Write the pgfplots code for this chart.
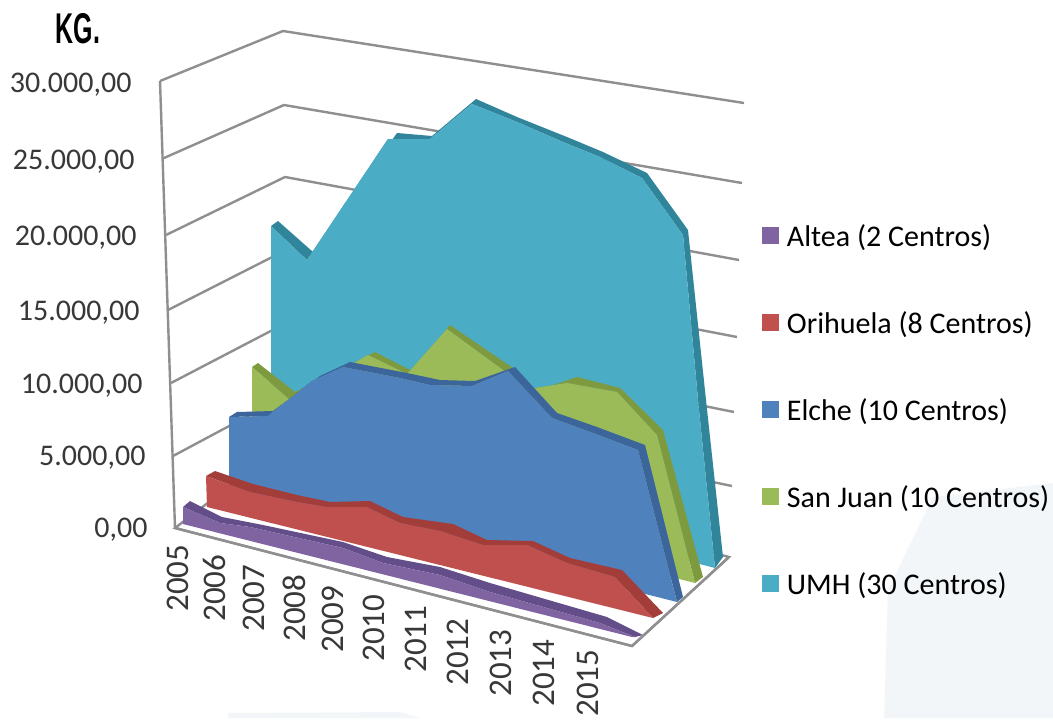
\documentclass[border=0pt]{standalone}
\usepackage{fontspec}
\setmainfont{Carlito}
\newfontfamily\kgfont{Liberation Sans}
\usepackage{graphicx}
\usepackage{pgfplots}
\pgfplotsset{compat=1.18}

\definecolor{umh}{HTML}{4BACC6}
\definecolor{umhd}{HTML}{31859B}
\definecolor{sj}{HTML}{9BBB59}
\definecolor{sjd}{HTML}{7E9A3F}
\definecolor{elche}{HTML}{4F81BD}
\definecolor{elched}{HTML}{3B659B}
\definecolor{ori}{HTML}{C0504D}
\definecolor{orid}{HTML}{A33D3A}
\definecolor{altea}{HTML}{8064A2}
\definecolor{altead}{HTML}{644E8A}
\definecolor{gridc}{HTML}{8F8F8F}
\definecolor{paleb}{HTML}{F3F6F9}
\definecolor{ticktxt}{HTML}{383838}

\begin{document}
\begin{tikzpicture}
% the chart is a 3D perspective view, so everything is given in picture coordinates
\begin{axis}[
    scale only axis,
    width=1053pt, height=718pt,
    xmin=0, xmax=1053, ymin=0, ymax=718,
    y dir=reverse,
    enlargelimits=false,
    hide axis,
    clip=false,
    reverse legend,
    legend style={
        at={(0.7236,0.6873)}, anchor=north west,
        draw=none, fill=none,
        font=\fontsize{30}{36}\selectfont,
        row sep=65pt, inner sep=0pt, outer sep=0pt,
        nodes={inner sep=0pt, text depth=0pt},
        /tikz/every odd column/.append style={column sep=8pt},
    },
    legend cell align=left,
    legend image code/.code={\fill[#1] (0pt,-8.5pt) rectangle (17pt,8.5pt);},
]
% background
\addplot[fill=white, draw=none, forget plot] coordinates {(0,0) (1053,0) (1053,718) (0,718)} --cycle;
\addplot[fill=paleb, draw=none, forget plot] coordinates {(933,497) (1053,483) (1053,718) (884,718) (888,590)} --cycle;
\addplot[fill=paleb, draw=none, forget plot] coordinates {(228,713) (400,712) (420,718) (228,718)} --cycle;

% walls and grid
\pgfplotsset{grid line/.style={draw=gridc, line width=2.4pt, forget plot, no marks}}
\addplot[grid line] coordinates {(160,81) (283,31) (744,103)};
\addplot[grid line] coordinates {(164,158) (284,105) (742,183)};
\addplot[grid line] coordinates {(166,235) (285,177) (739,260)};
\addplot[grid line] coordinates {(168,310) (286,250) (737,337)};
\addplot[grid line] coordinates {(171,383) (288,322) (734,412)};
\addplot[grid line] coordinates {(173,456) (289,394) (732,486)};
\addplot[grid line] coordinates {(160,81) (175,528)};
\addplot[fill=white, draw=gridc, line width=2.4pt, forget plot] coordinates {(175,528) (632,646) (729,557) (290,440)} --cycle;

% UMH
\addplot[fill=umhd, draw=none, forget plot] coordinates {(278,221) (313,252) (397,133) (432,136) (476,99) (517,117) (567,137) (603,152) (647,173) (688,230) (706,400) (723,557) (715,568) (698,400) (683,235) (642,178) (600,157) (563,142) (517,122) (472,104) (430,139) (388,139) (307,260) (271,226)} --cycle;
\addplot[fill=umh, draw=none] coordinates {(271,226) (307,260) (388,139) (430,139) (472,104) (517,122) (563,142) (600,157) (642,178) (683,235) (698,400) (715,568) (271,453)} --cycle;
\addlegendentry{UMH (30 Centros)}

% San Juan
\addplot[fill=sjd, draw=none, forget plot] coordinates {(258,363) (295,392) (375,352) (412,371) (450,325) (513,368) (532,392) (577,377) (620,388) (663,430) (703,577) (695,583) (657,435) (617,392) (567,383) (535,388) (522,395) (503,370) (447,329) (407,374) (368,355) (290,400) (252,367)} --cycle;
\addplot[fill=sj, draw=none] coordinates {(252,367) (290,400) (368,355) (407,374) (447,329) (503,370) (522,395) (535,388) (567,383) (617,392) (657,435) (695,583) (252,470)} --cycle;
\addlegendentry{San Juan (10 Centros)}

% Elche
\addplot[fill=elched, draw=none, forget plot] coordinates {(237,412) (273,411) (320,376) (350,362) (407,373) (440,380) (475,381) (515,367) (557,413) (597,427) (645,445) (683,597) (677,602) (638,450) (593,433) (552,418) (508,371) (472,386) (430,385) (400,378) (343,367) (312,381) (268,416) (229,417)} --cycle;
\addplot[fill=elche, draw=none] coordinates {(229,417) (268,416) (312,381) (343,367) (400,378) (430,385) (472,386) (508,371) (552,418) (593,433) (638,450) (677,602) (229,488)} --cycle;
\addlegendentry{Elche (10 Centros)}

% Orihuela
\addplot[fill=orid, draw=none, forget plot] coordinates {(215,471) (253,484) (297,495) (330,502) (370,501) (403,517) (453,524) (487,540) (533,541) (570,558) (622,570) (663,613) (653,618) (615,577) (567,563) (527,545) (483,545) (440,531) (400,523) (367,507) (327,507) (297,502) (250,492) (206,476)} --cycle;
\addplot[fill=ori, draw=none] coordinates {(206,476) (250,492) (297,502) (327,507) (367,507) (400,523) (440,531) (483,545) (527,545) (567,563) (615,577) (653,618) (207,507)} --cycle;
\addlegendentry{Orihuela (8 Centros)}

% Altea
\addplot[fill=altead, draw=none, forget plot] coordinates {(190,501) (222,517) (263,525) (343,542) (387,557) (440,567) (490,583) (607,617) (643,635) (635,637) (600,623) (490,592) (440,575) (383,563) (343,548) (250,527) (220,523) (183,507)} --cycle;
\addplot[fill=altea, draw=none] coordinates {(183,507) (220,523) (250,527) (343,548) (383,563) (440,575) (490,592) (600,623) (635,637) (632,637) (183,524)} --cycle;
\addlegendentry{Altea (2 Centros)}

% front edge of the floor
\addplot[draw=gridc, line width=2.4pt, forget plot] coordinates {(175,528) (632,646) (729,557)};

% value labels
\node[anchor=east, text=ticktxt, font=\fontsize{30}{36}\selectfont] at (axis cs:135,85) {30.000,00};
\node[anchor=east, text=ticktxt, font=\fontsize{30}{36}\selectfont] at (axis cs:138,162) {25.000,00};
\node[anchor=east, text=ticktxt, font=\fontsize{30}{36}\selectfont] at (axis cs:140,238) {20.000,00};
\node[anchor=east, text=ticktxt, font=\fontsize{30}{36}\selectfont] at (axis cs:143,313) {15.000,00};
\node[anchor=east, text=ticktxt, font=\fontsize{30}{36}\selectfont] at (axis cs:146,386) {10.000,00};
\node[anchor=east, text=ticktxt, font=\fontsize{30}{36}\selectfont] at (axis cs:149,458) {5.000,00};
\node[anchor=east, text=ticktxt, font=\fontsize{30}{36}\selectfont] at (axis cs:151,530) {0,00};

% year labels
\node[rotate=90, text=ticktxt, font=\fontsize{33}{36}\selectfont] at (axis cs:178,578) {2005};
\node[rotate=90, text=ticktxt, font=\fontsize{33}{36}\selectfont] at (axis cs:214,588) {2006};
\node[rotate=90, text=ticktxt, font=\fontsize{33}{36}\selectfont] at (axis cs:254,598) {2007};
\node[rotate=90, text=ticktxt, font=\fontsize{33}{36}\selectfont] at (axis cs:294,608) {2008};
\node[rotate=90, text=ticktxt, font=\fontsize{33}{36}\selectfont] at (axis cs:333,619) {2009};
\node[rotate=90, text=ticktxt, font=\fontsize{33}{36}\selectfont] at (axis cs:374,628) {2010};
\node[rotate=90, text=ticktxt, font=\fontsize{33}{36}\selectfont] at (axis cs:416,639) {2011};
\node[rotate=90, text=ticktxt, font=\fontsize{33}{36}\selectfont] at (axis cs:458,652) {2012};
\node[rotate=90, text=ticktxt, font=\fontsize{33}{36}\selectfont] at (axis cs:501,663) {2013};
\node[rotate=90, text=ticktxt, font=\fontsize{33}{36}\selectfont] at (axis cs:544,673) {2014};
\node[rotate=90, text=ticktxt, font=\fontsize{33}{36}\selectfont] at (axis cs:588,683) {2015};

\node[anchor=center] at (axis cs:78,29) {\scalebox{0.58}[1]{\kgfont\bfseries\fontsize{43}{48}\selectfont KG.}};
\end{axis}
\end{tikzpicture}
\end{document}
